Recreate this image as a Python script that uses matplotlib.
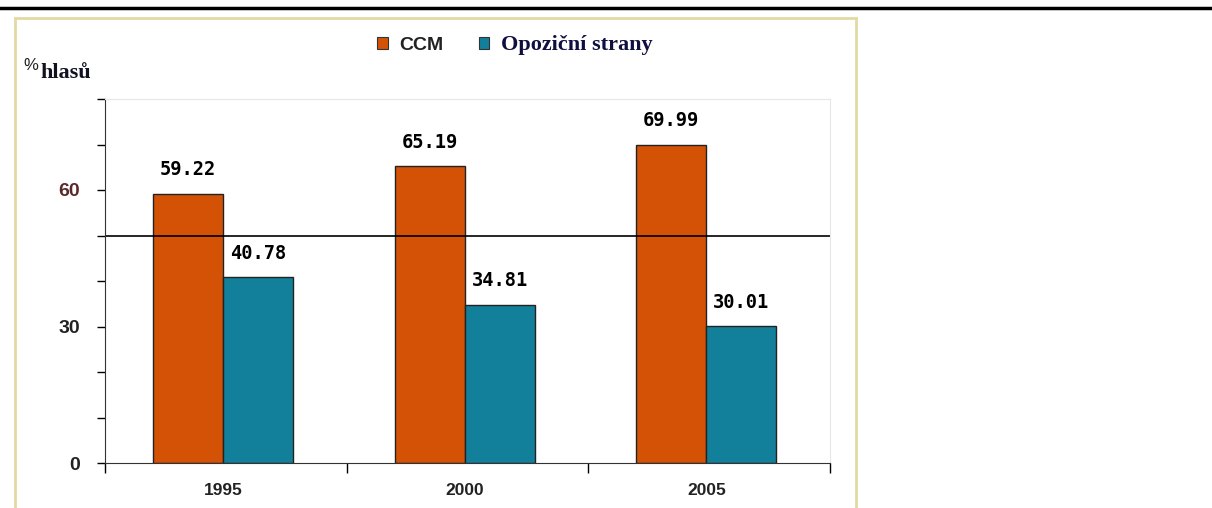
import numpy as np
import matplotlib.pyplot as plt
from matplotlib.lines import Line2D
from matplotlib.patches import Rectangle, Patch

years = ['1995', '2000', '2005']
ccm = [59.22, 65.19, 69.99]
opozice = [40.78, 34.81, 30.01]
series_names = ['CCM', 'Opoziční strany']

orange = '#d45206'
teal = '#13809b'

fig = plt.figure(figsize=(12.12, 5.08), dpi=100)

# thick rule across the top and the khaki frame round the chart
fig.add_artist(Line2D([0, 1], [1 - 8 / 508, 1 - 8 / 508], color='black', lw=2.5))
fig.add_artist(Rectangle((15 / 1212, -0.05), (856 - 15) / 1212, 1.05 - 18 / 508,
                         fill=False, edgecolor='#e3d9a3', lw=2))

ax = fig.add_axes([105 / 1212, 45 / 508, (830 - 105) / 1212, (463 - 99) / 508])

x = np.arange(len(years)) - 0.012
w = 0.29
ax.bar(x - w / 2, ccm, w, color=orange, edgecolor='#222222', lw=1)
ax.bar(x + w / 2, opozice, w, color=teal, edgecolor='#222222', lw=1)

for xi, v in zip(x - w / 2, ccm):
    ax.annotate(f'{v:.2f}', (xi, v), xytext=(0, 10.5), textcoords='offset points',
                ha='center', va='bottom', family='DejaVu Sans Mono',
                fontweight='bold', fontsize=13.5)
for xi, v in zip(x + w / 2, opozice):
    ax.annotate(f'{v:.2f}', (xi, v), xytext=(0, 10.5), textcoords='offset points',
                ha='center', va='bottom', family='DejaVu Sans Mono',
                fontweight='bold', fontsize=13.5)

ax.axhline(50, color='black', lw=1.2)

ax.set_xlim(-0.5, 2.5)
ax.set_ylim(0, 80)
ax.set_yticks(np.arange(0, 81, 10))
ax.set_yticklabels(['0', '', '', '30', '', '', '60', '', ''])
for lab in ax.get_yticklabels():
    lab.set_fontweight('bold')
    lab.set_fontsize(14)
    lab.set_family('Liberation Sans')
    lab.set_color('#222222')
ax.get_yticklabels()[6].set_color('#5a2a2a')
ax.tick_params(axis='y', length=6, width=1, pad=12)

# category separators below the axis, year labels centred in the slots
ax.set_xticks([-0.5, 0.5, 1.5, 2.5])
ax.set_xticklabels([])
ax.tick_params(axis='x', length=7, width=1)
for xi, yr in zip(np.arange(len(years)), years):
    ax.text(xi - 0.01, -4.3, yr, ha='center', va='top', fontweight='bold', fontsize=12.5,
            family='Liberation Sans', color='#222222')

for s in ['top', 'right']:
    ax.spines[s].set_color('#e6e6e6')
ax.spines['left'].set_color('#333333')
ax.spines['bottom'].set_color('#333333')

handles = [Patch(facecolor=orange, edgecolor='#333333', lw=0.8),
           Patch(facecolor=teal, edgecolor='#333333', lw=0.8)]
leg = fig.legend(handles, series_names, loc='center', bbox_to_anchor=(515 / 1212, 1 - 45 / 508),
                 ncol=2, frameon=False, handlelength=0.55, handleheight=0.55,
                 handletextpad=0.6, columnspacing=1.8, fontsize=14)
t1, t2 = leg.get_texts()
t1.set_fontweight('bold')
t1.set_family('Liberation Sans')
t1.set_color('#222222')
t2.set_fontweight('bold')
t2.set_family('Liberation Serif')
t2.set_color('#101040')
t2.set_fontsize(16)

fig.text(23 / 1212, 1 - 70 / 508, '%', fontsize=12, family='Liberation Sans', color='#222222')
fig.text(40 / 1212, 1 - 78 / 508, 'hlasů', fontsize=16, fontweight='bold',
         family='Liberation Serif', color='#111122')

fig.savefig('out.png', dpi=100)
